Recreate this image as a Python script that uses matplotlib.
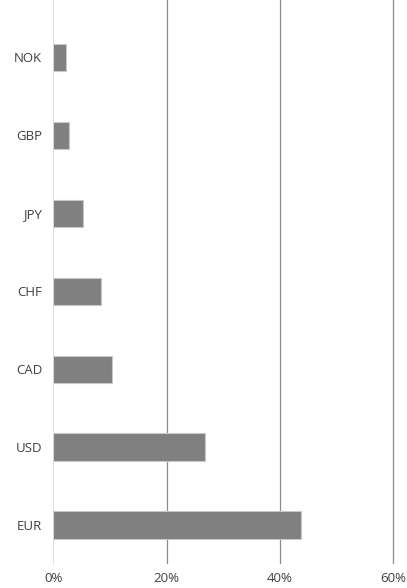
import numpy as np
import matplotlib.pyplot as plt

plt.rcParams['font.family'] = ['Open Sans', 'DejaVu Sans']

# currency shares, bottom to top
currencies = ['EUR', 'USD', 'CAD', 'CHF', 'JPY', 'GBP', 'NOK']
shares = [43.7, 26.8, 10.4, 8.5, 5.2, 2.8, 2.3]
xticks = [0, 20, 40, 60]

fig = plt.figure(figsize=(4.07, 5.88), dpi=100)
# 0% at x=53px, 20% step = 113.3px, plot bottom at y=564px
px_per_unit = 113.3 / 20
ax = fig.add_axes([53.3 / 407, 24 / 588, 1 - 53.3 / 407, 564 / 588])

y = np.arange(len(currencies))
ax.barh(y, shares, height=0.35, color='#808080', edgecolor='#c8c8c8',
        linewidth=0.8, zorder=3)

ax.set_xlim(0, (407 - 53.3) / px_per_unit)
ax.set_ylim(-0.5, 6.5 + 18.5 / 77.9)
ax.set_xticks(xticks)
ax.set_xticklabels([f'{t}%' for t in xticks])
ax.set_yticks(y)
ax.set_yticklabels(currencies)

for t in xticks[1:]:
    ax.axvline(t, color='#8c8c8c', linewidth=0.9, zorder=1)
ax.axvline(0, color='#d9d9d9', linewidth=1.2, zorder=4)

for s in ax.spines.values():
    s.set_visible(False)
ax.tick_params(axis='both', length=0, labelsize=9.5, colors='#404040')
ax.tick_params(axis='y', pad=8)
ax.tick_params(axis='x', pad=6)

fig.savefig('out.png', dpi=100)
